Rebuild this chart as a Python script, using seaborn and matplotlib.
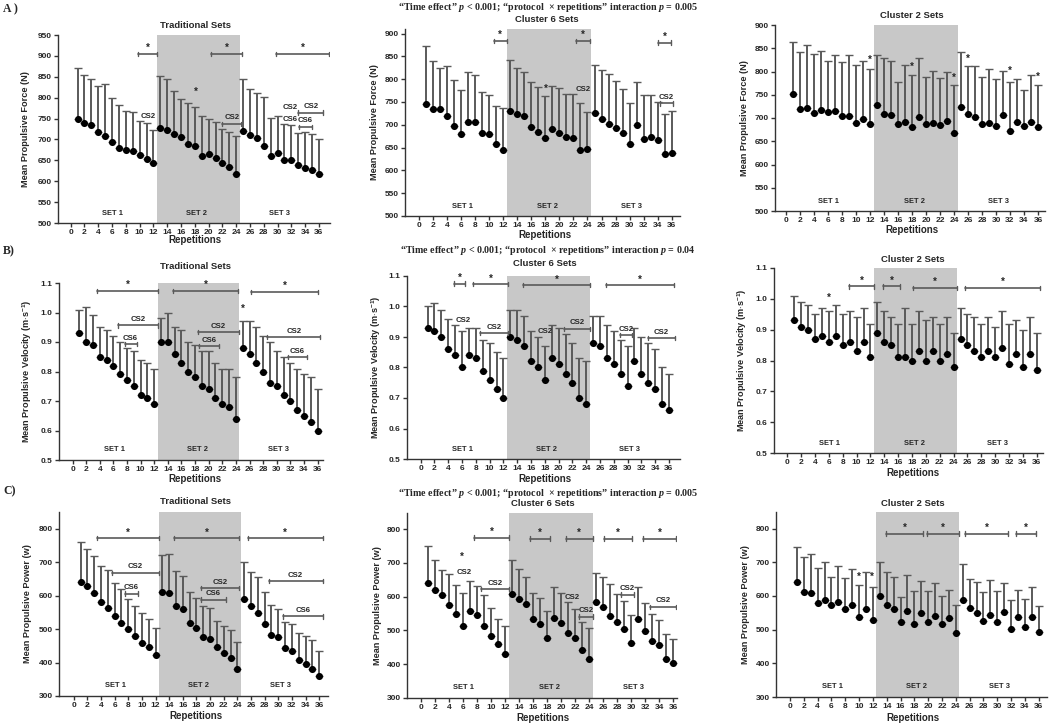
import numpy as np
import matplotlib
matplotlib.use("Agg")
import matplotlib.pyplot as plt
import seaborn as sns

# ================ DATA ========================================================

reps = np.arange(1, 37)

force_trad = [750, 740, 735, 717, 709, 694, 680, 675, 672, 663, 653, 644,
              728, 723, 714, 705, 688, 684, 660, 666, 655, 644, 633, 617,
              721, 710, 703, 685, 661, 667, 651, 651, 639, 631, 628, 618]
force_trad_up = [872, 855, 844, 828, 833, 800, 782, 768, 765, 745, 739, 722,
                 852, 845, 815, 798, 788, 777, 756, 750, 742, 726, 717, 708,
                 845, 821, 812, 801, 752, 756, 738, 735, 716, 719, 714, 700]

force_cs6 = [745, 735, 735, 720, 698, 680, 706, 705, 681, 680, 657, 645,
             731, 724, 720, 696, 685, 670, 691, 681, 674, 672, 645, 646,
             726, 712, 702, 693, 681, 658, 700, 669, 673, 667, 637, 638]
force_cs6_up = [872, 840, 825, 829, 799, 776, 815, 810, 771, 765, 741, 737,
                842, 824, 816, 794, 783, 763, 785, 781, 768, 768, 747, 729,
                831, 820, 811, 797, 778, 747, 794, 766, 766, 749, 723, 730]

force_cs2 = [751, 720, 722, 711, 718, 712, 715, 704, 705, 689, 697, 687,
             729, 709, 707, 687, 691, 681, 703, 687, 690, 686, 693, 668,
             724, 709, 702, 687, 690, 683, 707, 672, 692, 683, 691, 681]
force_cs2_up = [863, 841, 856, 838, 845, 822, 836, 821, 835, 813, 822, 806,
                836, 830, 822, 778, 813, 793, 829, 788, 802, 787, 798, 770,
                843, 811, 812, 788, 805, 783, 802, 778, 784, 761, 793, 772]

vel_trad = [0.93, 0.90, 0.89, 0.85, 0.84, 0.82, 0.79, 0.77, 0.75, 0.72, 0.71, 0.69,
            0.90, 0.90, 0.86, 0.83, 0.80, 0.78, 0.75, 0.74, 0.71, 0.69, 0.68, 0.64,
            0.88, 0.86, 0.83, 0.80, 0.76, 0.75, 0.72, 0.70, 0.67, 0.65, 0.63, 0.60]
vel_trad_up = [1.01, 1.02, 0.99, 0.95, 0.94, 0.92, 0.90, 0.88, 0.87, 0.84, 0.83, 0.81,
               0.98, 1.00, 0.95, 0.94, 0.90, 0.89, 0.87, 0.87, 0.83, 0.81, 0.81, 0.78,
               0.97, 0.97, 0.95, 0.92, 0.90, 0.87, 0.85, 0.83, 0.81, 0.79, 0.78, 0.74]

vel_cs6 = [0.93, 0.92, 0.90, 0.86, 0.84, 0.80, 0.84, 0.83, 0.79, 0.76, 0.73, 0.70,
           0.90, 0.89, 0.87, 0.82, 0.80, 0.76, 0.83, 0.81, 0.78, 0.75, 0.70, 0.68,
           0.88, 0.87, 0.83, 0.81, 0.78, 0.74, 0.82, 0.78, 0.75, 0.73, 0.68, 0.66]
vel_cs6_up = [1.00, 1.01, 0.99, 0.96, 0.94, 0.92, 0.93, 0.93, 0.89, 0.88, 0.85, 0.83,
              0.99, 0.99, 0.97, 0.92, 0.90, 0.87, 0.94, 0.93, 0.91, 0.88, 0.83, 0.82,
              0.97, 0.97, 0.94, 0.92, 0.89, 0.87, 0.93, 0.90, 0.88, 0.86, 0.80, 0.78]

vel_cs2 = [0.93, 0.91, 0.90, 0.87, 0.88, 0.86, 0.88, 0.85, 0.86, 0.83, 0.86, 0.81,
           0.89, 0.86, 0.85, 0.81, 0.81, 0.80, 0.83, 0.80, 0.83, 0.80, 0.82, 0.78,
           0.87, 0.85, 0.83, 0.81, 0.83, 0.81, 0.84, 0.79, 0.82, 0.78, 0.82, 0.77]
vel_cs2_up = [1.01, 0.99, 0.98, 0.95, 0.97, 0.96, 0.98, 0.95, 0.96, 0.94, 0.97, 0.92,
              0.99, 0.96, 0.94, 0.92, 0.97, 0.92, 0.96, 0.93, 0.94, 0.92, 0.94, 0.89,
              0.97, 0.95, 0.94, 0.92, 0.94, 0.91, 0.96, 0.92, 0.93, 0.90, 0.94, 0.89]

pow_trad = [642, 628, 607, 580, 562, 539, 519, 500, 479, 458, 446, 423,
            610, 608, 570, 560, 519, 502, 477, 471, 446, 429, 415, 382,
            590, 570, 547, 516, 481, 475, 444, 435, 409, 395, 382, 359]
pow_trad_up = [760, 738, 717, 690, 676, 638, 620, 590, 570, 548, 530, 503,
               722, 723, 673, 658, 611, 594, 570, 563, 523, 508, 497, 461,
               700, 671, 657, 611, 572, 560, 522, 515, 488, 480, 468, 435]

pow_cs6 = [640, 621, 604, 575, 550, 514, 558, 547, 513, 485, 460, 431,
           609, 594, 577, 533, 518, 478, 538, 521, 493, 477, 442, 417,
           583, 571, 544, 524, 503, 463, 535, 499, 470, 458, 416, 404]
pow_cs6_up = [750, 710, 680, 668, 635, 611, 648, 633, 606, 567, 535, 512,
              710, 681, 658, 612, 595, 557, 628, 612, 583, 565, 524, 506,
              671, 657, 639, 609, 588, 547, 628, 580, 550, 530, 491, 476]

pow_cs2 = [641, 612, 610, 578, 588, 572, 583, 562, 572, 538, 562, 529,
           601, 572, 562, 524, 554, 518, 549, 522, 540, 517, 533, 491,
           589, 563, 548, 526, 544, 523, 553, 501, 537, 508, 537, 493]
pow_cs2_up = [745, 714, 725, 684, 700, 657, 690, 653, 681, 633, 671, 626,
              701, 672, 655, 597, 661, 616, 645, 616, 637, 601, 619, 572,
              696, 650, 642, 613, 647, 616, 639, 589, 619, 592, 627, 570]

# significance brackets (x0, x1, y, label) and loose labels (x, y, label)
br_a1 = [(9.8, 12.5, 905, "*"), (20.3, 24.9, 905, "*"), (29.8, 37.4, 905, "*"),
         (22.0, 24.7, 737, "CS2"), (33.0, 36.6, 764, "CS2"), (33.1, 35.0, 730, "CS6")]
tx_a1 = [(18.2, 812, "*"), (11.2, 754, "CS2"), (31.8, 776, "CS2"), (31.8, 748, "CS6")]
br_a2 = [(10.6, 12.5, 884, "*"), (22.4, 24.3, 884, "*"), (34.1, 35.9, 880, "*"),
         (34.3, 36.2, 747, "CS2")]
tx_a2 = [(18.0, 775, "*"), (23.4, 778, "CS2")]
br_a3 = []
tx_a3 = [(12, 822, "*"), (18, 808, "*"), (24, 784, "*"), (26, 824, "*"),
         (32, 798, "*"), (36, 786, "*")]

br_b1 = [(3.6, 12.5, 1.074, "*"), (14.8, 24.3, 1.074, "*"), (26.2, 36.1, 1.07, "*"),
         (6.7, 12.5, 0.956, "CS2"), (7.65, 9.4, 0.893, "CS6"), (18.5, 24.4, 0.934, "CS2"),
         (18.6, 21.5, 0.887, "CS6"), (28.6, 36.4, 0.918, "CS2"), (31.6, 34.5, 0.85, "CS6")]
tx_b1 = [(25, 1.008, "*")]
br_b2 = [(4.8, 6.5, 1.075, "*"), (7.6, 12.7, 1.073, "*"), (14.85, 24.6, 1.07, "*"),
         (26.9, 36.8, 1.07, "*"), (8.6, 12.7, 0.913, "CS2"), (20.75, 24.6, 0.927, "CS2"),
         (28.9, 30.7, 0.907, "CS2"), (32.9, 36.9, 0.897, "CS2")]
tx_b2 = [(6.2, 0.954, "CS2"), (18.1, 0.919, "CS2")]
br_b3 = [(8.85, 12.56, 1.04, "*"), (13.8, 16.3, 1.04, "*"), (18.1, 24.5, 1.035, "*"),
         (25.7, 36.5, 1.035, "*")]
tx_b3 = [(6.06, 1.0, "*")]

br_c1 = [(3.43, 12.5, 772, "*"), (14.7, 24.3, 772, "*"), (25.5, 36.5, 772, "*"),
         (5.6, 12.5, 668, "CS2"), (7.5, 9.45, 606, "CS6"), (18.6, 24.3, 623, "CS2"),
         (18.6, 22.4, 588, "CS6"), (28.6, 36.5, 644, "CS2"), (30.7, 36.5, 538, "CS6")]
tx_c1 = []
br_c2 = [(7.6, 12.6, 775, "*"), (8.5, 12.6, 623, "CS2"), (15.5, 18.4, 772, "*"),
         (20.65, 24.5, 772, "*"), (22.5, 24.5, 541, "CS2"), (26.1, 30.1, 772, "*"),
         (31.6, 36.4, 772, "*"), (28.5, 30.4, 606, "CS2"), (32.6, 36.4, 570, "CS2")]
tx_c2 = [(5.9, 713, "*"), (6.2, 673, "CS2"), (21.5, 598, "CS2")]
br_c3 = [(13.9, 19.3, 785, "*"), (19.9, 24.4, 785, "*"), (25.3, 31.6, 785, "*"),
         (32.7, 35.6, 785, "*")]
tx_c3 = [(10, 653, "*"), (11.9, 653, "*")]

set_labels = ["SET 1", "SET 2", "SET 3"]
set_x = [6.1, 18.3, 30.3]

# ================ STYLE ==================================================

sns.set_style("ticks")
plt.rcParams["font.family"] = ["Liberation Sans", "DejaVu Sans"]
plt.rcParams["font.weight"] = "bold"
plt.rcParams["axes.labelweight"] = "bold"
plt.rcParams["mathtext.fontset"] = "custom"
plt.rcParams["mathtext.rm"] = "Liberation Sans:bold"
plt.rcParams["mathtext.it"] = "Liberation Serif:italic:bold"
plt.rcParams["mathtext.bf"] = "Liberation Sans:bold"

SHADE = "#c8c8c8"
BAR = "#5a5a5a"
W, H = 1052, 725
fig = plt.figure(figsize=(W / 100, H / 100), dpi=100)


def ftext(x, y, s, **kw):
    kw.setdefault("ha", "center")
    kw.setdefault("va", "center")
    fig.text(x / W, 1 - y / H, s, **kw)


def add_ax(l, r, t, b):
    return fig.add_axes([l / W, 1 - b / H, (r - l) / W, (b - t) / H])


def panel(px, xlim, ylim, yticks, fmt, means, ups, brackets, texts, set_y, ylab, ylab_x):
    ax = add_ax(*px)
    ax.axvspan(12.5, 24.5, color=SHADE, lw=0, zorder=0)
    err = np.array(ups) - np.array(means)
    ax.errorbar(reps, means, yerr=[np.zeros_like(err), err], fmt="none", ecolor=BAR,
                elinewidth=1.4, capsize=2.6, capthick=1.0, zorder=2)
    sns.scatterplot(x=reps, y=means, ax=ax, color="black", s=26, linewidth=0,
                    zorder=3, legend=False)
    ax.set_xlim(xlim)
    ax.set_ylim(ylim)
    ax.set_xticks(range(0, 37, 2))
    ax.set_yticks(yticks)
    ax.set_yticklabels([fmt.format(v) for v in yticks])
    ax.tick_params(length=3, width=1, color="#333333", labelsize=6, pad=1.5)
    for s in ["left", "bottom"]:
        ax.spines[s].set_color("#333333")
        ax.spines[s].set_linewidth(1)
    sns.despine(ax=ax)
    rng = ylim[1] - ylim[0]
    for x0, x1, y, lab in brackets:
        h = 0.012 * rng
        ax.plot([x0, x1], [y, y], color=BAR, lw=1.2, zorder=4)
        ax.plot([x0, x0], [y - h, y + h], color=BAR, lw=1.0, zorder=4)
        ax.plot([x1, x1], [y - h, y + h], color=BAR, lw=1.0, zorder=4)
        if lab == "*":
            ax.text((x0 + x1) / 2, y + 0.004 * rng, lab, ha="center", va="bottom",
                    fontsize=7, zorder=5)
        else:
            ax.text((x0 + x1) / 2, y + 0.032 * rng, lab, ha="center", va="center",
                    fontsize=5.6, zorder=5)
    for x, y, lab in texts:
        if lab == "*":
            ax.text(x, y - 0.02 * rng, lab, ha="center", va="bottom", fontsize=7, zorder=5)
        else:
            ax.text(x, y, lab, ha="center", va="center", fontsize=5.6, zorder=5)
    for sx, lab in zip(set_x, set_labels):
        ax.text(sx, set_y, lab, ha="center", va="center", fontsize=5.4)
    ax.set_ylabel(ylab, fontsize=6.6)
    ax.yaxis.set_label_coords((ylab_x - px[0]) / (px[1] - px[0]), 0.5)
    return ax


force_lab = "Mean Propulsive Force (N)"
vel_lab = r"Mean Propulsive Velocity (m$\cdot$s$^{-1}$)"
pow_lab = "Mean Propulsive Power (w)"

# row A
panel((58, 330, 35, 223), (-1.84, 37.6), (500, 950), range(500, 951, 50), "{:d}",
      force_trad, force_trad_up, br_a1, tx_a1, 522, force_lab, 30)
panel((405, 680, 29, 216), (-2.04, 37.2), (500, 910), range(500, 901, 50), "{:d}",
      force_cs6, force_cs6_up, br_a2, tx_a2, 520, force_lab, 379)
panel((775, 1045, 25, 211), (-1.6, 37.0), (500, 900), range(500, 901, 50), "{:d}",
      force_cs2, force_cs2_up, br_a3, tx_a3, 520, force_lab, 749)
# row B
vt = [0.5, 0.6, 0.7, 0.8, 0.9, 1.0, 1.1]
panel((59, 323, 283, 460), (-2.0, 36.8), (0.5, 1.1), vt, "{:.1f}",
      vel_trad, vel_trad_up, br_b1, tx_b1, 0.535, vel_lab, 33)
panel((407, 680, 276, 459), (-1.98, 37.6), (0.5, 1.1), vt, "{:.1f}",
      vel_cs6, vel_cs6_up, br_b2, tx_b2, 0.532, vel_lab, 382)
panel((774, 1043, 268, 453), (-1.92, 36.9), (0.5, 1.1), vt, "{:.1f}",
      vel_cs2, vel_cs2_up, br_b3, tx_b3, 0.532, vel_lab, 748)
# row C
panel((59, 328, 512, 696), (-2.16, 37.3), (300, 850), range(300, 801, 100), "{:d}",
      pow_trad, pow_trad_up, br_c1, tx_c1, 331, pow_lab, 32)
panel((407, 677, 513, 698), (-1.98, 36.5), (300, 848), range(300, 801, 100), "{:d}",
      pow_cs6, pow_cs6_up, br_c2, tx_c2, 330, pow_lab, 382)
panel((776, 1047, 512, 697), (-2.03, 37.2), (300, 849), range(300, 801, 100), "{:d}",
      pow_cs2, pow_cs2_up, br_c3, tx_c3, 331, pow_lab, 750)

# titles, x labels, row letters
titles = [(196, 25, "Traditional Sets"), (547, 19, "Cluster 6 Sets"), (912, 16, "Cluster 2 Sets"),
          (195, 267, "Traditional Sets"), (545, 264, "Cluster 6 Sets"), (913, 259, "Cluster 2 Sets"),
          (196, 502, "Traditional Sets"), (543, 504, "Cluster 6 Sets"), (913, 503, "Cluster 2 Sets")]
for x, y, s in titles:
    ftext(x, y, s, fontsize=6.8)
for x, y in [(195, 240), (545, 235), (912, 230), (195, 479), (545, 479), (913, 473),
             (196, 716), (543, 718), (913, 718)]:
    ftext(x, y, "Repetitions", fontsize=7)

serif = ["Liberation Serif", "DejaVu Serif"]
for y, pv in [(7, "0.005"), (250, "0.04"), (493, "0.005")]:
    ftext(548, y, "\u201cTime effect\u201d $p$ < 0.001; \u201cprotocol  \u00d7 repetitions\u201d "
          "interaction $p$ = " + pv, fontsize=7.2, family=serif)
for y, s in [(9, "A )"), (251, "B)"), (491, "C)")]:
    ftext(3, y, s, ha="left", fontsize=8.5, family=serif)

fig.savefig("out.png", dpi=100, facecolor="white")
